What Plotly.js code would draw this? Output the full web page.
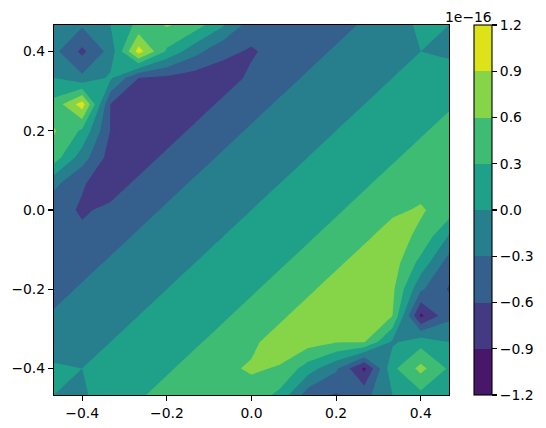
<!DOCTYPE html>
<html>
<head>
<meta charset="utf-8">
<script src="https://cdn.plot.ly/plotly-3.0.1.min.js"></script>
<style>html,body{margin:0;padding:0;background:#fff}</style>
</head>
<body>
<div id="chart" style="width:546px;height:428px"></div>
<script>
const axisCoords = [-0.4667,-0.4,-0.3333,-0.2667,-0.2,-0.1333,-0.0667,0,0.0667,0.1333,0.2,0.2667,0.3333,0.4,0.4667];
const zRows = [
[0,-.05,.18,.275,.37,.47,.5,.5,.22,-.46,-.63,-.4,0,.22,.1],
[.05,0,.09,.18,.275,.37,.55,.63,.58,.15,-.25,-.97,.23,.69,.26],
[-.18,-.09,0,.09,.18,.275,.37,.55,.72,.73,.61,.61,-.05,.19,0],
[-.275,-.18,-.09,0,.09,.18,.275,.37,.55,.72,.76,.72,.6,-.97,-.38],
[-.37,-.275,-.18,-.09,0,.09,.18,.275,.37,.55,.72,.76,.665,-.25,-.63],
[-.47,-.37,-.275,-.18,-.09,0,.09,.18,.275,.37,.55,.72,.75,.2,-.45],
[-.5,-.55,-.37,-.275,-.18,-.09,0,.09,.18,.275,.37,.55,.72,.54,-.03],
[-.5,-.63,-.55,-.37,-.275,-.18,-.09,0,.09,.18,.275,.37,.55,.63,.47],
[-.22,-.58,-.72,-.55,-.37,-.275,-.18,-.09,0,.09,.18,.275,.37,.5,.52],
[.46,-.15,-.73,-.72,-.55,-.37,-.275,-.18,-.09,0,.09,.18,.275,.37,.44],
[.63,.25,-.61,-.76,-.72,-.55,-.37,-.275,-.18,-.09,0,.09,.18,.275,.37],
[.4,1.05,-.61,-.72,-.76,-.72,-.55,-.37,-.275,-.18,-.09,0,.09,.18,.275],
[0,-.23,.05,-.6,-.665,-.75,-.72,-.55,-.37,-.275,-.18,-.09,0,.09,.18],
[-.22,-.67,-.19,1.03,.25,-.2,-.54,-.63,-.5,-.37,-.275,-.18,-.09,0,-.07],
[-.1,-.26,0,.38,.63,.45,.03,-.47,-.52,-.44,-.37,-.275,-.18,.07,0]
];
const bandColors = ['#481769','#443a83','#35608d','#277f8e','#1fa088','#3fbc73','#86d549','#dde318'];
const xTickVals = [-0.4,-0.2,0,0.2,0.4];
const xTickText = ['\u22120.4','\u22120.2','0.0','0.2','0.4'];
const cbTickVals = [-1.2,-0.9,-0.6,-0.3,0,0.3,0.6,0.9,1.2];
const cbTickText = ['\u22121.2','\u22120.9','\u22120.6','\u22120.3','0.0','0.3','0.6','0.9','1.2'];
const offsetText = '1e\u221216';

const colorscale = [];
bandColors.forEach((c,k)=>{
  colorscale.push([k/bandColors.length,c]);
  colorscale.push([(k+1)/bandColors.length,c]);
});
const font = {family:'"DejaVu Sans", sans-serif', size:13.9, color:'#000'};
const axisBase = {
  range:[-0.4667,0.4667], showgrid:false, zeroline:false, showline:true, mirror:true,
  linecolor:'#000', linewidth:1.1, ticks:'outside', ticklen:5, tickwidth:1.1, tickcolor:'#000',
  tickfont:font, tickmode:'array'
};
Plotly.newPlot('chart',[{
  type:'contour', x:axisCoords, y:axisCoords, z:zRows,
  autocontour:false,
  contours:{start:-0.9,end:0.9,size:0.3,coloring:'fill',showlines:false},
  line:{width:0,smoothing:0},
  colorscale:colorscale, zmin:-1.2, zmax:1.2,
  hoverinfo:'skip',
  colorbar:{
    x:1.063, xanchor:'left', xref:'paper', y:0, yanchor:'bottom', len:1, lenmode:'fraction',
    thickness:17.5, thicknessmode:'pixels', xpad:0, ypad:0,
    outlinewidth:1.1, outlinecolor:'#000', borderwidth:0,
    ticks:'outside', ticklen:5, tickwidth:1.1, tickcolor:'#000', tickfont:font,
    tickmode:'array', tickvals:cbTickVals, ticktext:cbTickText
  }
}],{
  width:546, height:428, autosize:false,
  margin:{l:54,r:95,t:25,b:33.4,pad:0},
  paper_bgcolor:'#fff', plot_bgcolor:'#fff',
  font:font,
  xaxis:Object.assign({},axisBase,{tickvals:xTickVals,ticktext:xTickText}),
  yaxis:Object.assign({},axisBase,{tickvals:xTickVals,ticktext:xTickText}),
  annotations:[{
    text:offsetText, xref:'paper', yref:'paper', x:(493-54)/397, y:1.005,
    xanchor:'right', yanchor:'bottom', showarrow:false, font:font, xshift:3.5, yshift:-4
  }]
},{displayModeBar:false,staticPlot:true});
</script>
</body>
</html>
